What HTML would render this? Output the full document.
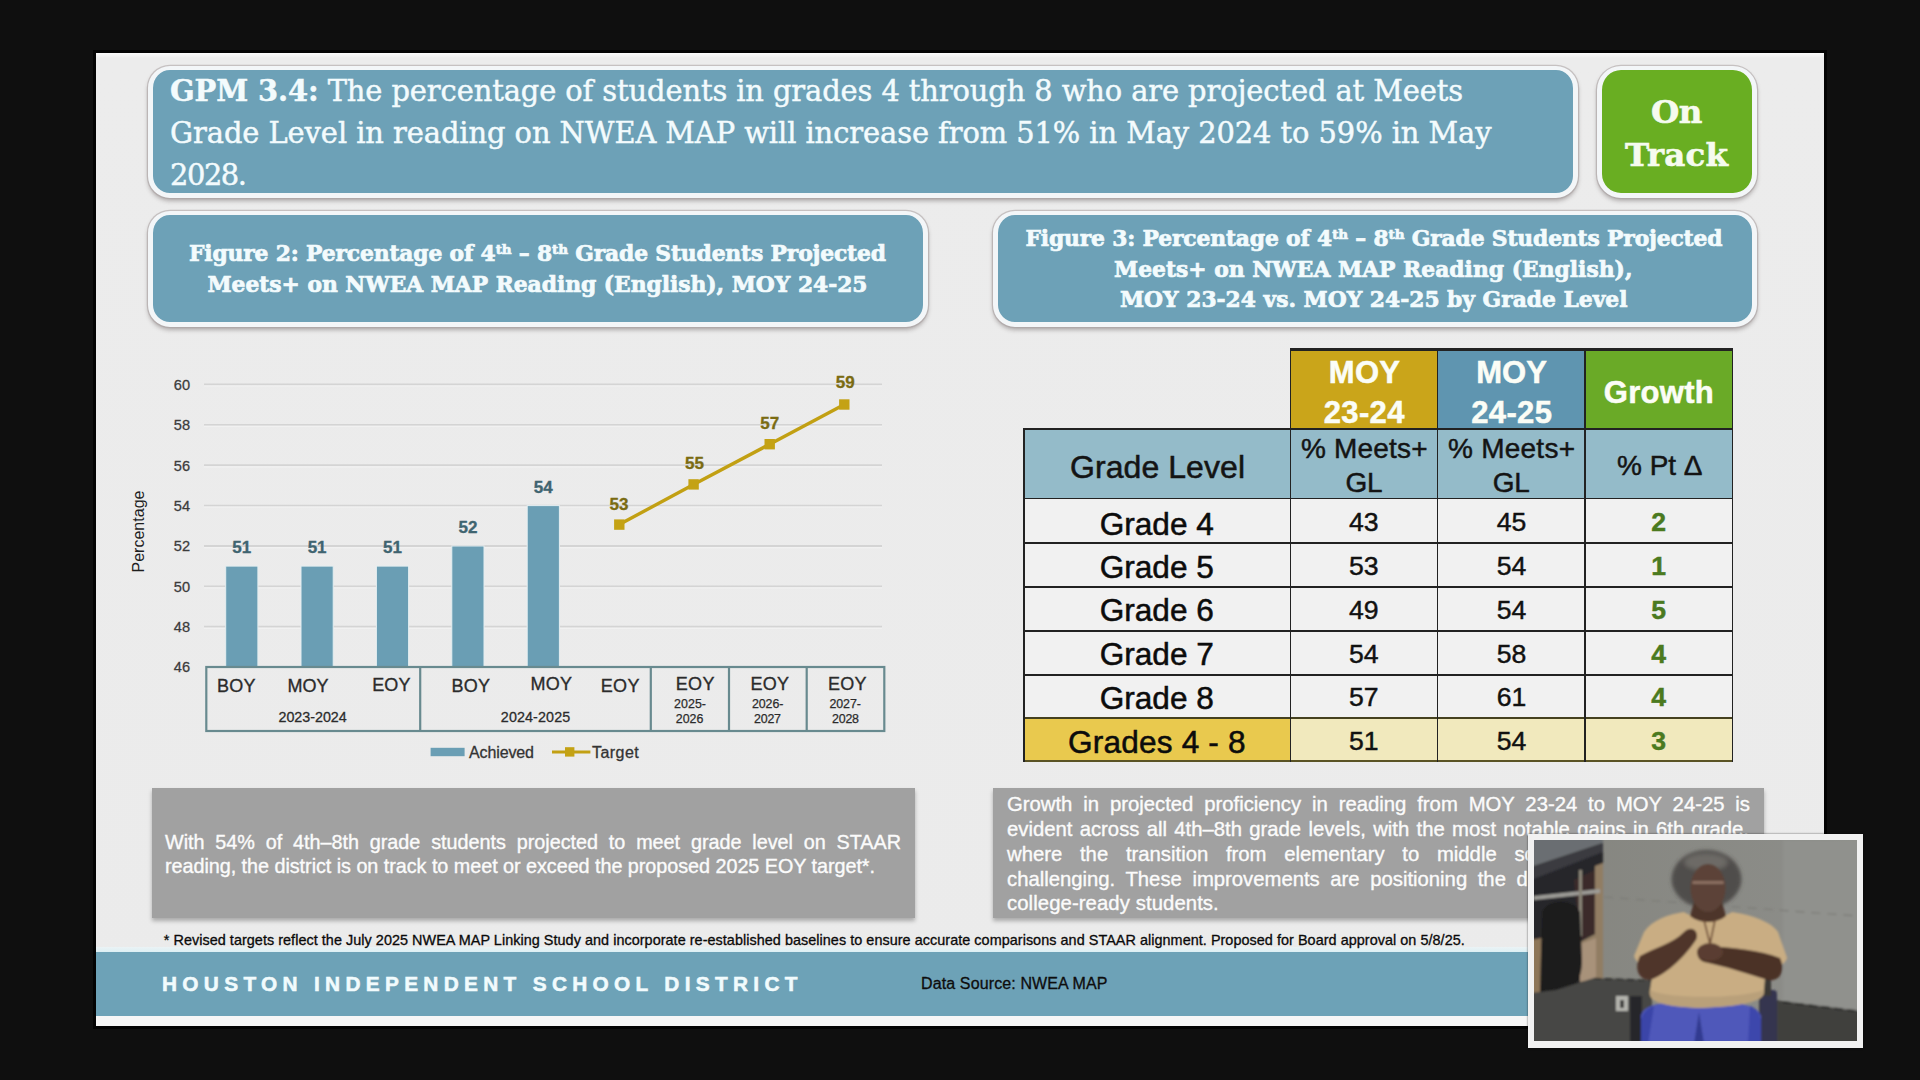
<!DOCTYPE html>
<html lang="en">
<head>
<meta charset="utf-8">
<title>GPM 3.4 – NWEA MAP Reading Progress</title>
<style>
html,body{margin:0;padding:0;background:#0f0f0f;}
body{width:1920px;height:1080px;position:relative;overflow:hidden;font-family:"Liberation Sans",Arial,sans-serif;}
#slide{position:absolute;left:96px;top:53px;width:1728px;height:973px;background:linear-gradient(#fafafa 0,#ececec 5px,#ebebeb 100%);box-shadow:0 0 0 3px #030303;}
.abs{position:absolute;}
.pill{position:absolute;box-sizing:border-box;border:5px solid #f3f6f8;border-top-width:4px;border-radius:22px;background:#6da1b7;box-shadow:0 0 0 1.2px rgba(170,160,160,.55), 0 3px 4px rgba(90,80,80,.42);}
.pill.green{background:#69ae22;border-radius:24px;}
.note{position:absolute;background:#a1a1a1;box-shadow:0 3px 4px rgba(0,0,0,.28);}
.cell{position:absolute;}
.ln{position:absolute;background:#1d1d1d;}
.t{position:absolute;white-space:pre;line-height:1;margin:0;padding:0}
.t sup{font-size:62%;vertical-align:baseline;position:relative;top:-0.5em;line-height:0}

</style>
</head>
<body>
<div id="slide"></div>

<!-- title pills -->
<div class="pill" style="left:148px;top:66px;width:1430px;height:132px;"></div>
<div class="pill green" style="left:1596.5px;top:66px;width:160.5px;height:132px;"></div>
<div class="pill" style="left:148px;top:210.5px;width:780px;height:116px;"></div>
<div class="pill" style="left:992.5px;top:210.5px;width:764px;height:116px;"></div>

<svg class="abs" style="left:0;top:0" width="1920" height="1080" viewBox="0 0 1920 1080">
<line x1="204" x2="882" y1="626.7" y2="626.7" stroke="#d4d4d4" stroke-width="1.8"/>
<line x1="204" x2="882" y1="628.3" y2="628.3" stroke="#f1f1f1" stroke-width="1.2"/>
<line x1="204" x2="882" y1="586.3" y2="586.3" stroke="#d4d4d4" stroke-width="1.8"/>
<line x1="204" x2="882" y1="587.9" y2="587.9" stroke="#f1f1f1" stroke-width="1.2"/>
<line x1="204" x2="882" y1="546.0" y2="546.0" stroke="#d4d4d4" stroke-width="1.8"/>
<line x1="204" x2="882" y1="547.6" y2="547.6" stroke="#f1f1f1" stroke-width="1.2"/>
<line x1="204" x2="882" y1="505.6" y2="505.6" stroke="#d4d4d4" stroke-width="1.8"/>
<line x1="204" x2="882" y1="507.2" y2="507.2" stroke="#f1f1f1" stroke-width="1.2"/>
<line x1="204" x2="882" y1="465.2" y2="465.2" stroke="#d4d4d4" stroke-width="1.8"/>
<line x1="204" x2="882" y1="466.8" y2="466.8" stroke="#f1f1f1" stroke-width="1.2"/>
<line x1="204" x2="882" y1="424.8" y2="424.8" stroke="#d4d4d4" stroke-width="1.8"/>
<line x1="204" x2="882" y1="426.4" y2="426.4" stroke="#f1f1f1" stroke-width="1.2"/>
<line x1="204" x2="882" y1="384.4" y2="384.4" stroke="#d4d4d4" stroke-width="1.8"/>
<line x1="204" x2="882" y1="386.0" y2="386.0" stroke="#f1f1f1" stroke-width="1.2"/>
<rect x="225.7" y="566.1" width="32.2" height="101.0" fill="#6a9eb4" stroke="#e4eef1" stroke-width="1"/>
<rect x="301.0" y="566.1" width="32.2" height="101.0" fill="#6a9eb4" stroke="#e4eef1" stroke-width="1"/>
<rect x="376.4" y="566.1" width="32.2" height="101.0" fill="#6a9eb4" stroke="#e4eef1" stroke-width="1"/>
<rect x="451.8" y="546.0" width="32.2" height="121.1" fill="#6a9eb4" stroke="#e4eef1" stroke-width="1"/>
<rect x="527.2" y="505.6" width="32.2" height="161.5" fill="#6a9eb4" stroke="#e4eef1" stroke-width="1"/>
<g fill="none" stroke="#688a8f" stroke-width="2.2">
<rect x="206.3" y="667" width="678" height="64"/>
<line x1="420.2" x2="420.2" y1="667" y2="731"/>
<line x1="650.8" x2="650.8" y1="667" y2="731"/>
<line x1="729" x2="729" y1="667" y2="731"/>
<line x1="806.7" x2="806.7" y1="667" y2="731"/>
</g>
<polyline fill="none" stroke="#c2a013" stroke-width="3.4" points="619.3,524.6 693.6,484.4 769.7,444.2 844.3,404.5"/>
<rect x="614.1" y="519.4" width="10.4" height="10.4" fill="#c4a214"/>
<rect x="688.4" y="479.2" width="10.4" height="10.4" fill="#c4a214"/>
<rect x="764.5" y="439.0" width="10.4" height="10.4" fill="#c4a214"/>
<rect x="839.1" y="399.3" width="10.4" height="10.4" fill="#c4a214"/>
<rect x="430.6" y="747.8" width="34" height="8.4" fill="#6a9eb4"/>
<line x1="552" x2="590.4" y1="752" y2="752" stroke="#c2a013" stroke-width="3.2"/>
<rect x="565" y="747.2" width="9.4" height="9.4" fill="#c4a214"/>
<text transform="translate(144.2 531.5) rotate(-90)" text-anchor="middle" font-family="'Liberation Sans', Arial, sans-serif" font-size="16" fill="#1e1e1e" textLength="82" lengthAdjust="spacing">Percentage</text>
</svg>

<div id="table">
<div class="cell" style="left:1290.5px;top:349.5px;width:147.0px;height:79.25px;background:#caa51a"></div>
<div class="cell" style="left:1437.5px;top:349.5px;width:147.5px;height:79.25px;background:#5f95b0"></div>
<div class="cell" style="left:1585px;top:349.5px;width:147.5px;height:79.25px;background:#6aaa27"></div>
<div class="cell" style="left:1023.75px;top:428.75px;width:708.75px;height:69.75px;background:#94bbc9"></div>
<div class="cell" style="left:1023.75px;top:498.5px;width:708.75px;height:219.5px;background:#f1f1f1"></div>
<div class="cell" style="left:1023.75px;top:718px;width:266.75px;height:43.5px;background:#e9c94e"></div>
<div class="cell" style="left:1290.5px;top:718px;width:442.0px;height:43.5px;background:#f1e9bd"></div>
<div class="ln" style="left:1289.55px;top:348.2px;width:443.9px;height:2.6px;background:#222"></div>
<div class="ln" style="left:1022.8px;top:427.8px;width:710.65px;height:1.9px;background:#222"></div>
<div class="ln" style="left:1022.8px;top:497.55px;width:710.65px;height:1.9px;background:#222"></div>
<div class="ln" style="left:1022.8px;top:542.05px;width:710.65px;height:1.9px;background:#222"></div>
<div class="ln" style="left:1022.8px;top:586.05px;width:710.65px;height:1.9px;background:#222"></div>
<div class="ln" style="left:1022.8px;top:630.05px;width:710.65px;height:1.9px;background:#222"></div>
<div class="ln" style="left:1022.8px;top:673.8px;width:710.65px;height:1.9px;background:#222"></div>
<div class="ln" style="left:1022.8px;top:716.8px;width:710.65px;height:2.4px;background:#45411f"></div>
<div class="ln" style="left:1022.8px;top:759.9px;width:710.65px;height:2.0px;background:#5a5324"></div>
<div class="ln" style="left:1022.8px;top:428.75px;width:1.9px;height:332.75px;background:#222"></div>
<div class="ln" style="left:1289.55px;top:349.5px;width:1.9px;height:412.0px;background:#222"></div>
<div class="ln" style="left:1436.55px;top:349.5px;width:1.9px;height:412.0px;background:#222"></div>
<div class="ln" style="left:1584.05px;top:349.5px;width:1.9px;height:412.0px;background:#222"></div>
<div class="ln" style="left:1731.55px;top:349.5px;width:1.9px;height:412.0px;background:#222"></div>
</div>

<!-- commentary boxes -->
<div class="note" style="left:152px;top:788px;width:763px;height:129.5px;"></div>
<div class="note" style="left:992.5px;top:788px;width:771px;height:130px;"></div>

<!-- footer -->
<div class="abs" style="left:96px;top:947px;width:1728px;height:6px;background:linear-gradient(#ebf3f5,#d9eef3);"></div>
<div class="abs" style="left:96px;top:952px;width:1728px;height:64px;background:#6da2b7;"></div>
<div class="abs" style="left:96px;top:1015.7px;width:1728px;height:10.3px;background:#f6f6f6;"></div>

<div class="t" style="font-family:'DejaVu Serif', 'Liberation Serif', serif;font-size:28.9px;font-weight:400;color:#f3fbfd;letter-spacing:-0.098px;left:170.00px;top:77.00px;-webkit-text-stroke:0.45px;"><b>GPM 3.4:</b> The percentage of students in grades 4 through 8 who are projected at Meets</div>
<div class="t" style="font-family:'DejaVu Serif', 'Liberation Serif', serif;font-size:28.9px;font-weight:400;color:#f3fbfd;letter-spacing:-0.069px;left:170.00px;top:118.50px;-webkit-text-stroke:0.45px;">Grade Level in reading on NWEA MAP will increase from 51% in May 2024 to 59% in May</div>
<div class="t" style="font-family:'DejaVu Serif', 'Liberation Serif', serif;font-size:28.9px;font-weight:400;color:#f3fbfd;letter-spacing:-1.430px;left:170.00px;top:160.50px;-webkit-text-stroke:0.45px;">2028.</div>
<div class="t" style="font-family:'DejaVu Serif', 'Liberation Serif', serif;font-size:32.5px;font-weight:700;color:#f6fbef;letter-spacing:-0.453px;left:1650.95px;top:95.50px;-webkit-text-stroke:0.6px;">On</div>
<div class="t" style="font-family:'DejaVu Serif', 'Liberation Serif', serif;font-size:32.5px;font-weight:700;color:#f6fbef;letter-spacing:0.172px;left:1625.00px;top:139.00px;-webkit-text-stroke:0.6px;">Track</div>
<div class="t" style="font-family:'DejaVu Serif', 'Liberation Serif', serif;font-size:21.8px;font-weight:700;color:#f3fbfd;letter-spacing:-0.146px;left:189.00px;top:243.00px;-webkit-text-stroke:0.7px;">Figure 2: Percentage of 4<sup>th</sup> – 8<sup>th</sup> Grade Students Projected</div>
<div class="t" style="font-family:'DejaVu Serif', 'Liberation Serif', serif;font-size:21.8px;font-weight:700;color:#f3fbfd;letter-spacing:-0.022px;left:207.50px;top:274.00px;-webkit-text-stroke:0.7px;">Meets+ on NWEA MAP Reading (English), MOY 24-25</div>
<div class="t" style="font-family:'DejaVu Serif', 'Liberation Serif', serif;font-size:21.8px;font-weight:700;color:#f3fbfd;letter-spacing:-0.146px;left:1025.50px;top:228.00px;-webkit-text-stroke:0.7px;">Figure 3: Percentage of 4<sup>th</sup> – 8<sup>th</sup> Grade Students Projected</div>
<div class="t" style="font-family:'DejaVu Serif', 'Liberation Serif', serif;font-size:21.8px;font-weight:700;color:#f3fbfd;letter-spacing:0.029px;left:1114.00px;top:259.00px;-webkit-text-stroke:0.7px;">Meets+ on NWEA MAP Reading (English),</div>
<div class="t" style="font-family:'DejaVu Serif', 'Liberation Serif', serif;font-size:21.8px;font-weight:700;color:#f3fbfd;letter-spacing:-0.005px;left:1120.00px;top:289.00px;-webkit-text-stroke:0.7px;">MOY 23-24 vs. MOY 24-25 by Grade Level</div>
<div class="t" style="font-family:'Liberation Sans', Arial, sans-serif;font-size:14.6px;font-weight:400;color:#3c3c3c;left:173.77px;top:660.40px;-webkit-text-stroke:0.28px;">46</div>
<div class="t" style="font-family:'Liberation Sans', Arial, sans-serif;font-size:14.6px;font-weight:400;color:#3c3c3c;left:173.77px;top:620.02px;-webkit-text-stroke:0.28px;">48</div>
<div class="t" style="font-family:'Liberation Sans', Arial, sans-serif;font-size:14.6px;font-weight:400;color:#3c3c3c;left:173.77px;top:579.64px;-webkit-text-stroke:0.28px;">50</div>
<div class="t" style="font-family:'Liberation Sans', Arial, sans-serif;font-size:14.6px;font-weight:400;color:#3c3c3c;left:173.77px;top:539.26px;-webkit-text-stroke:0.28px;">52</div>
<div class="t" style="font-family:'Liberation Sans', Arial, sans-serif;font-size:14.6px;font-weight:400;color:#3c3c3c;left:173.77px;top:498.88px;-webkit-text-stroke:0.28px;">54</div>
<div class="t" style="font-family:'Liberation Sans', Arial, sans-serif;font-size:14.6px;font-weight:400;color:#3c3c3c;left:173.77px;top:458.50px;-webkit-text-stroke:0.28px;">56</div>
<div class="t" style="font-family:'Liberation Sans', Arial, sans-serif;font-size:14.6px;font-weight:400;color:#3c3c3c;left:173.77px;top:418.12px;-webkit-text-stroke:0.28px;">58</div>
<div class="t" style="font-family:'Liberation Sans', Arial, sans-serif;font-size:14.6px;font-weight:400;color:#3c3c3c;left:173.77px;top:377.74px;-webkit-text-stroke:0.28px;">60</div>
<div class="t" style="font-family:'Liberation Sans', Arial, sans-serif;font-size:17px;font-weight:700;color:#3f6470;left:232.34px;top:539.15px;-webkit-text-stroke:0.32px;">51</div>
<div class="t" style="font-family:'Liberation Sans', Arial, sans-serif;font-size:17px;font-weight:700;color:#3f6470;left:307.64px;top:539.15px;-webkit-text-stroke:0.32px;">51</div>
<div class="t" style="font-family:'Liberation Sans', Arial, sans-serif;font-size:17px;font-weight:700;color:#3f6470;left:383.04px;top:539.15px;-webkit-text-stroke:0.32px;">51</div>
<div class="t" style="font-family:'Liberation Sans', Arial, sans-serif;font-size:17px;font-weight:700;color:#3f6470;left:458.44px;top:518.96px;-webkit-text-stroke:0.32px;">52</div>
<div class="t" style="font-family:'Liberation Sans', Arial, sans-serif;font-size:17px;font-weight:700;color:#3f6470;left:533.84px;top:478.58px;-webkit-text-stroke:0.32px;">54</div>
<div class="t" style="font-family:'Liberation Sans', Arial, sans-serif;font-size:17px;font-weight:700;color:#7a6b12;left:609.54px;top:495.57px;-webkit-text-stroke:0.32px;">53</div>
<div class="t" style="font-family:'Liberation Sans', Arial, sans-serif;font-size:17px;font-weight:700;color:#7a6b12;left:684.94px;top:455.19px;-webkit-text-stroke:0.32px;">55</div>
<div class="t" style="font-family:'Liberation Sans', Arial, sans-serif;font-size:17px;font-weight:700;color:#7a6b12;left:760.34px;top:414.81px;-webkit-text-stroke:0.32px;">57</div>
<div class="t" style="font-family:'Liberation Sans', Arial, sans-serif;font-size:17px;font-weight:700;color:#7a6b12;left:835.74px;top:374.43px;-webkit-text-stroke:0.32px;">59</div>
<div class="t" style="font-family:'Liberation Sans', Arial, sans-serif;font-size:18px;font-weight:400;color:#2b2b2b;letter-spacing:0.242px;left:217.00px;top:676.70px;-webkit-text-stroke:0.33px;">BOY</div>
<div class="t" style="font-family:'Liberation Sans', Arial, sans-serif;font-size:18px;font-weight:400;color:#2b2b2b;letter-spacing:-0.008px;left:287.50px;top:676.70px;-webkit-text-stroke:0.33px;">MOY</div>
<div class="t" style="font-family:'Liberation Sans', Arial, sans-serif;font-size:18px;font-weight:400;color:#2b2b2b;letter-spacing:0.042px;left:372.30px;top:675.60px;-webkit-text-stroke:0.33px;">EOY</div>
<div class="t" style="font-family:'Liberation Sans', Arial, sans-serif;font-size:18px;font-weight:400;color:#2b2b2b;letter-spacing:0.242px;left:451.50px;top:676.70px;-webkit-text-stroke:0.33px;">BOY</div>
<div class="t" style="font-family:'Liberation Sans', Arial, sans-serif;font-size:18px;font-weight:400;color:#2b2b2b;letter-spacing:0.242px;left:530.60px;top:675.20px;-webkit-text-stroke:0.33px;">MOY</div>
<div class="t" style="font-family:'Liberation Sans', Arial, sans-serif;font-size:18px;font-weight:400;color:#2b2b2b;letter-spacing:0.292px;left:600.80px;top:676.70px;-webkit-text-stroke:0.33px;">EOY</div>
<div class="t" style="font-family:'Liberation Sans', Arial, sans-serif;font-size:18px;font-weight:400;color:#2b2b2b;letter-spacing:0.292px;left:675.80px;top:674.60px;-webkit-text-stroke:0.33px;">EOY</div>
<div class="t" style="font-family:'Liberation Sans', Arial, sans-serif;font-size:18px;font-weight:400;color:#2b2b2b;letter-spacing:0.292px;left:750.40px;top:674.60px;-webkit-text-stroke:0.33px;">EOY</div>
<div class="t" style="font-family:'Liberation Sans', Arial, sans-serif;font-size:18px;font-weight:400;color:#2b2b2b;letter-spacing:0.242px;left:828.00px;top:674.60px;-webkit-text-stroke:0.33px;">EOY</div>
<div class="t" style="font-family:'Liberation Sans', Arial, sans-serif;font-size:14.3px;font-weight:400;color:#2b2b2b;letter-spacing:-0.022px;left:278.50px;top:709.70px;-webkit-text-stroke:0.28px;">2023-2024</div>
<div class="t" style="font-family:'Liberation Sans', Arial, sans-serif;font-size:14.3px;font-weight:400;color:#2b2b2b;letter-spacing:0.128px;left:500.80px;top:709.70px;-webkit-text-stroke:0.28px;">2024-2025</div>
<div class="t" style="font-family:'Liberation Sans', Arial, sans-serif;font-size:12.4px;font-weight:400;color:#2b2b2b;letter-spacing:0.074px;left:674.00px;top:697.70px;-webkit-text-stroke:0.25px;">2025-</div>
<div class="t" style="font-family:'Liberation Sans', Arial, sans-serif;font-size:12.4px;font-weight:400;color:#2b2b2b;letter-spacing:-0.026px;left:675.80px;top:713.00px;-webkit-text-stroke:0.25px;">2026</div>
<div class="t" style="font-family:'Liberation Sans', Arial, sans-serif;font-size:12.4px;font-weight:400;color:#2b2b2b;letter-spacing:-0.051px;left:751.90px;top:697.70px;-webkit-text-stroke:0.25px;">2026-</div>
<div class="t" style="font-family:'Liberation Sans', Arial, sans-serif;font-size:12.4px;font-weight:400;color:#2b2b2b;letter-spacing:-0.193px;left:754.00px;top:713.00px;-webkit-text-stroke:0.25px;">2027</div>
<div class="t" style="font-family:'Liberation Sans', Arial, sans-serif;font-size:12.4px;font-weight:400;color:#2b2b2b;letter-spacing:-0.026px;left:829.40px;top:697.70px;-webkit-text-stroke:0.25px;">2027-</div>
<div class="t" style="font-family:'Liberation Sans', Arial, sans-serif;font-size:12.4px;font-weight:400;color:#2b2b2b;letter-spacing:-0.193px;left:832.00px;top:713.00px;-webkit-text-stroke:0.25px;">2028</div>
<div class="t" style="font-family:'Liberation Sans', Arial, sans-serif;font-size:16px;font-weight:400;color:#333;letter-spacing:-0.118px;left:469.00px;top:744.70px;-webkit-text-stroke:0.3px;">Achieved</div>
<div class="t" style="font-family:'Liberation Sans', Arial, sans-serif;font-size:16px;font-weight:400;color:#333;letter-spacing:0.456px;left:592.00px;top:744.70px;-webkit-text-stroke:0.3px;">Target</div>
<div class="t" style="font-family:'Liberation Sans', Arial, sans-serif;font-size:31px;font-weight:700;color:#fbfdf6;letter-spacing:0.312px;left:1328.78px;top:357.00px;-webkit-text-stroke:0.51px;">MOY</div>
<div class="t" style="font-family:'Liberation Sans', Arial, sans-serif;font-size:31px;font-weight:700;color:#fbfdf6;letter-spacing:0.363px;left:1323.72px;top:396.50px;-webkit-text-stroke:0.51px;">23-24</div>
<div class="t" style="font-family:'Liberation Sans', Arial, sans-serif;font-size:31px;font-weight:700;color:#fbfdf6;letter-spacing:0.062px;left:1476.22px;top:357.00px;-webkit-text-stroke:0.51px;">MOY</div>
<div class="t" style="font-family:'Liberation Sans', Arial, sans-serif;font-size:31px;font-weight:700;color:#fbfdf6;letter-spacing:0.363px;left:1471.22px;top:396.50px;-webkit-text-stroke:0.51px;">24-25</div>
<div class="t" style="font-family:'Liberation Sans', Arial, sans-serif;font-size:31px;font-weight:700;color:#fbfdf6;letter-spacing:0.300px;left:1603.75px;top:376.50px;-webkit-text-stroke:0.51px;">Growth</div>
<div class="t" style="font-family:'Liberation Sans', Arial, sans-serif;font-size:32px;font-weight:400;color:#141414;letter-spacing:0.067px;left:1070.00px;top:451.00px;-webkit-text-stroke:0.53px;">Grade Level</div>
<div class="t" style="font-family:'Liberation Sans', Arial, sans-serif;font-size:28px;font-weight:400;color:#141414;letter-spacing:0.174px;left:1301.00px;top:434.50px;-webkit-text-stroke:0.47px;">% Meets+</div>
<div class="t" style="font-family:'Liberation Sans', Arial, sans-serif;font-size:28px;font-weight:400;color:#141414;letter-spacing:-0.359px;left:1345.50px;top:469.00px;-webkit-text-stroke:0.47px;">GL</div>
<div class="t" style="font-family:'Liberation Sans', Arial, sans-serif;font-size:28px;font-weight:400;color:#141414;letter-spacing:0.246px;left:1448.00px;top:434.50px;-webkit-text-stroke:0.47px;">% Meets+</div>
<div class="t" style="font-family:'Liberation Sans', Arial, sans-serif;font-size:28px;font-weight:400;color:#141414;letter-spacing:-0.359px;left:1492.80px;top:469.00px;-webkit-text-stroke:0.47px;">GL</div>
<div class="t" style="font-family:'Liberation Sans', Arial, sans-serif;font-size:28px;font-weight:400;color:#141414;letter-spacing:-0.025px;left:1617.00px;top:452.00px;-webkit-text-stroke:0.47px;">% Pt Δ</div>
<div class="t" style="font-family:'Liberation Sans', Arial, sans-serif;font-size:31.6px;font-weight:400;color:#0c0c0c;letter-spacing:0.013px;left:1099.67px;top:509.00px;-webkit-text-stroke:0.52px;">Grade 4</div>
<div class="t" style="font-family:'Liberation Sans', Arial, sans-serif;font-size:26.6px;font-weight:400;color:#111;left:1348.95px;top:509.00px;-webkit-text-stroke:0.45px;">43</div>
<div class="t" style="font-family:'Liberation Sans', Arial, sans-serif;font-size:26.6px;font-weight:400;color:#111;left:1496.70px;top:509.00px;-webkit-text-stroke:0.45px;">45</div>
<div class="t" style="font-family:'Liberation Sans', Arial, sans-serif;font-size:26.6px;font-weight:700;color:#4b7a1f;left:1651.35px;top:509.00px;-webkit-text-stroke:0.45px;">2</div>
<div class="t" style="font-family:'Liberation Sans', Arial, sans-serif;font-size:31.6px;font-weight:400;color:#0c0c0c;letter-spacing:0.013px;left:1099.67px;top:552.00px;-webkit-text-stroke:0.52px;">Grade 5</div>
<div class="t" style="font-family:'Liberation Sans', Arial, sans-serif;font-size:26.6px;font-weight:400;color:#111;left:1348.95px;top:552.50px;-webkit-text-stroke:0.45px;">53</div>
<div class="t" style="font-family:'Liberation Sans', Arial, sans-serif;font-size:26.6px;font-weight:400;color:#111;left:1496.70px;top:552.50px;-webkit-text-stroke:0.45px;">54</div>
<div class="t" style="font-family:'Liberation Sans', Arial, sans-serif;font-size:26.6px;font-weight:700;color:#4b7a1f;left:1651.35px;top:552.50px;-webkit-text-stroke:0.45px;">1</div>
<div class="t" style="font-family:'Liberation Sans', Arial, sans-serif;font-size:31.6px;font-weight:400;color:#0c0c0c;letter-spacing:0.013px;left:1099.67px;top:595.25px;-webkit-text-stroke:0.52px;">Grade 6</div>
<div class="t" style="font-family:'Liberation Sans', Arial, sans-serif;font-size:26.6px;font-weight:400;color:#111;left:1348.95px;top:596.75px;-webkit-text-stroke:0.45px;">49</div>
<div class="t" style="font-family:'Liberation Sans', Arial, sans-serif;font-size:26.6px;font-weight:400;color:#111;left:1496.70px;top:596.75px;-webkit-text-stroke:0.45px;">54</div>
<div class="t" style="font-family:'Liberation Sans', Arial, sans-serif;font-size:26.6px;font-weight:700;color:#4b7a1f;left:1651.35px;top:596.75px;-webkit-text-stroke:0.45px;">5</div>
<div class="t" style="font-family:'Liberation Sans', Arial, sans-serif;font-size:31.6px;font-weight:400;color:#0c0c0c;letter-spacing:0.013px;left:1099.67px;top:639.00px;-webkit-text-stroke:0.52px;">Grade 7</div>
<div class="t" style="font-family:'Liberation Sans', Arial, sans-serif;font-size:26.6px;font-weight:400;color:#111;left:1348.95px;top:640.50px;-webkit-text-stroke:0.45px;">54</div>
<div class="t" style="font-family:'Liberation Sans', Arial, sans-serif;font-size:26.6px;font-weight:400;color:#111;left:1496.70px;top:640.50px;-webkit-text-stroke:0.45px;">58</div>
<div class="t" style="font-family:'Liberation Sans', Arial, sans-serif;font-size:26.6px;font-weight:700;color:#4b7a1f;left:1651.35px;top:640.50px;-webkit-text-stroke:0.45px;">4</div>
<div class="t" style="font-family:'Liberation Sans', Arial, sans-serif;font-size:31.6px;font-weight:400;color:#0c0c0c;letter-spacing:0.013px;left:1099.67px;top:682.75px;-webkit-text-stroke:0.52px;">Grade 8</div>
<div class="t" style="font-family:'Liberation Sans', Arial, sans-serif;font-size:26.6px;font-weight:400;color:#111;left:1348.95px;top:684.00px;-webkit-text-stroke:0.45px;">57</div>
<div class="t" style="font-family:'Liberation Sans', Arial, sans-serif;font-size:26.6px;font-weight:400;color:#111;left:1496.70px;top:684.00px;-webkit-text-stroke:0.45px;">61</div>
<div class="t" style="font-family:'Liberation Sans', Arial, sans-serif;font-size:26.6px;font-weight:700;color:#4b7a1f;left:1651.35px;top:684.00px;-webkit-text-stroke:0.45px;">4</div>
<div class="t" style="font-family:'Liberation Sans', Arial, sans-serif;font-size:31.6px;font-weight:400;color:#0c0c0c;letter-spacing:0.172px;left:1068.05px;top:726.50px;-webkit-text-stroke:0.52px;">Grades 4 - 8</div>
<div class="t" style="font-family:'Liberation Sans', Arial, sans-serif;font-size:26.6px;font-weight:400;color:#111;left:1348.95px;top:728.00px;-webkit-text-stroke:0.45px;">51</div>
<div class="t" style="font-family:'Liberation Sans', Arial, sans-serif;font-size:26.6px;font-weight:400;color:#111;left:1496.70px;top:728.00px;-webkit-text-stroke:0.45px;">54</div>
<div class="t" style="font-family:'Liberation Sans', Arial, sans-serif;font-size:26.6px;font-weight:700;color:#4b7a1f;left:1651.35px;top:728.00px;-webkit-text-stroke:0.45px;">3</div>
<div class="t" style="font-family:'Liberation Sans', Arial, sans-serif;font-size:19.8px;font-weight:400;color:#fbfbfb;word-spacing:5.284px;left:165.00px;top:832.75px;-webkit-text-stroke:0.36px;">With 54% of 4th–8th grade students projected to meet grade level on STAAR</div>
<div class="t" style="font-family:'Liberation Sans', Arial, sans-serif;font-size:19.8px;font-weight:400;color:#fbfbfb;letter-spacing:-0.040px;left:165.00px;top:857.00px;-webkit-text-stroke:0.36px;">reading, the district is on track to meet or exceed the proposed 2025 EOY target*.</div>
<div class="t" style="font-family:'Liberation Sans', Arial, sans-serif;font-size:20.3px;font-weight:400;color:#fbfbfb;word-spacing:5.240px;left:1007.00px;top:793.50px;-webkit-text-stroke:0.36px;">Growth in projected proficiency in reading from MOY 23-24 to MOY 24-25 is</div>
<div class="t" style="font-family:'Liberation Sans', Arial, sans-serif;font-size:20.3px;font-weight:400;color:#fbfbfb;word-spacing:1.660px;left:1007.00px;top:818.50px;-webkit-text-stroke:0.36px;">evident across all 4th–8th grade levels, with the most notable gains in 6th grade,</div>
<div class="t" style="font-family:'Liberation Sans', Arial, sans-serif;font-size:20.3px;font-weight:400;color:#fbfbfb;word-spacing:12.100px;left:1007.00px;top:843.50px;-webkit-text-stroke:0.36px;">where the transition from elementary to middle school can be especially</div>
<div class="t" style="font-family:'Liberation Sans', Arial, sans-serif;font-size:20.3px;font-weight:400;color:#fbfbfb;word-spacing:4.934px;left:1007.00px;top:868.50px;-webkit-text-stroke:0.36px;">challenging. These improvements are positioning the district to graduate more</div>
<div class="t" style="font-family:'Liberation Sans', Arial, sans-serif;font-size:20.3px;font-weight:400;color:#fbfbfb;letter-spacing:0.093px;left:1007.00px;top:892.50px;-webkit-text-stroke:0.36px;">college-ready students.</div>
<div class="t" style="font-family:'Liberation Sans', Arial, sans-serif;font-size:14.4px;font-weight:400;color:#0a0a0a;letter-spacing:0.050px;left:163.75px;top:933.30px;-webkit-text-stroke:0.3px;">* Revised targets reflect the July 2025 NWEA MAP Linking Study and incorporate re-established baselines to ensure accurate comparisons and STAAR alignment. Proposed for Board approval on 5/8/25.</div>
<div class="t" style="font-family:'Liberation Sans', Arial, sans-serif;font-size:20.8px;font-weight:700;color:#f1fbfd;letter-spacing:5.324px;left:162.00px;top:974.00px;-webkit-text-stroke:0.55px;">HOUSTON INDEPENDENT SCHOOL DISTRICT</div>
<div class="t" style="font-family:'Liberation Sans', Arial, sans-serif;font-size:16px;font-weight:400;color:#0d0d0d;letter-spacing:0.122px;left:921.00px;top:976.00px;-webkit-text-stroke:0.3px;">Data Source: NWEA MAP</div>

<div class="abs" style="left:1528px;top:834px;width:335px;height:214px;background:#f1f1f1;box-shadow:0 0 2px rgba(0,0,0,.6)"></div>
<svg class="abs" style="left:1534px;top:840px" width="323" height="201" viewBox="0 0 323 201">
<defs><filter id="bl" x="-5%" y="-5%" width="110%" height="110%"><feGaussianBlur stdDeviation="1.1"/></filter><filter id="bl3" x="-20%" y="-20%" width="140%" height="140%"><feGaussianBlur stdDeviation="1.5"/></filter><filter id="bl2" x="-20%" y="-20%" width="140%" height="140%"><feGaussianBlur stdDeviation="2.2"/></filter><linearGradient id="wall" x1="0" x2="1" y1="0" y2="0"><stop offset="0" stop-color="#85857f"/><stop offset="1" stop-color="#8d8e8a"/></linearGradient><clipPath id="cp"><rect width="323" height="201"/></clipPath></defs>
<g clip-path="url(#cp)">
<rect width="323" height="201" fill="url(#wall)"/>
<g filter="url(#bl)">
<rect x="249" y="0" width="80" height="175" fill="#90918d"/>
<line x1="70" x2="323" y1="57" y2="76" stroke="#7c7c77" stroke-width="1.2" stroke-dasharray="9 7"/>
<rect x="-3" y="-3" width="72" height="160" fill="#27272a"/>
<polygon points="-3,-3 69,-3 69,3 -3,27" fill="#6a6e72"/>
<polygon points="-3,27 69,3 69,12 -3,40" fill="#3a3b3f"/>
<polygon points="61,26 69,23 69,140 46,141 46,102 61,94" fill="#917d63"/>
<polygon points="40,40 61,30 61,94 46,100" fill="#3b2b2b"/>
<polygon points="-3,100 12,97 12,154 -3,154" fill="#8d7659"/>
<polygon points="46,104 62,98 62,140 46,142" fill="#a8927a"/>
<polygon points="0,56 66,49 66,53 0,60" fill="#9d9c97"/>
<rect x="45" y="30" width="3" height="66" fill="#8a8578"/>
<path d="M8,72 C14,58 40,58 46,72 L48,120 C48,140 40,150 30,153 L6,153 Z" fill="#1c1c1f"/>
<polygon points="-3,153 22,150 60,138 118,140 118,204 -3,204" fill="#474744"/>
<polygon points="225,158 326,171 326,204 225,204" fill="#41413d"/>
<line x1="236" x2="326" y1="160.5" y2="171.5" stroke="#2c2c2a" stroke-width="2" stroke-dasharray="8 5"/>
<line x1="60" x2="118" y1="138.5" y2="140.5" stroke="#2f2f2d" stroke-width="1.6" stroke-dasharray="7 4"/>
<rect x="82" y="156" width="12" height="15" fill="#b4b4ae"/><rect x="86" y="160" width="4" height="8" fill="#3a3a3a"/>
<rect x="96" y="156" width="12" height="48" fill="#27272a"/>
<rect x="226" y="150" width="17" height="54" rx="4" fill="#35364f"/>
<rect x="229" y="128" width="8" height="28" fill="#3a3836"/>
<path d="M107,204 L107,176 C110,162 140,160 165,166 C190,160 222,162 227,176 L227,204 Z" fill="#4f58ba"/>
<path d="M160,204 L165,172 L170,204 Z" fill="#303a90"/>
<path d="M107,204 L107,180 C109,172 114,168 120,166 L114,204 Z" fill="#3a44a8"/>
<path d="M227,204 L227,180 C225,172 222,168 216,166 L214,204 Z" fill="#3d47ac"/>
<path d="M150,72 C135,74 118,80 110,92 L100,116 C102,124 112,128 120,124 L116,150 C114,160 122,166 165,168 C215,166 232,160 230,150 L232,126 C240,130 250,126 253,118 L244,92 C236,80 212,74 198,72 C185,80 163,80 150,72 Z" fill="#c9ad83"/>
<path d="M116,150 C130,158 200,160 230,150 C232,160 215,166 165,168 C122,166 114,160 116,150 Z" fill="#b9a07a"/>
<path d="M106,116 C100,128 104,140 116,140 C130,136 150,118 162,100 C166,92 158,84 150,92 C138,104 120,108 106,116 Z" fill="#50362a"/>
<path d="M246,118 C252,130 246,142 234,140 C214,134 190,126 170,122 C160,118 162,106 174,106 C200,108 226,110 246,118 Z" fill="#4c3327"/>
<ellipse cx="176" cy="112" rx="13" ry="9" fill="#5a3d30"/>
<ellipse cx="172.5" cy="39" rx="35" ry="29" fill="#504d4b" filter="url(#bl3)"/>
<ellipse cx="172" cy="22" rx="22" ry="9" fill="#6d6a66" filter="url(#bl2)"/>
<path d="M160,62 L188,62 L192,76 C182,84 166,84 156,76 Z" fill="#4d3429"/>
<ellipse cx="174" cy="48" rx="17.5" ry="24" fill="#5b4338"/>
<rect x="158" y="41" width="32" height="3" rx="1.5" fill="#8b6f62"/>
<path d="M170,80 L176,104 L181,80" fill="none" stroke="#6a4a34" stroke-width="1.6"/>
</g></g></svg>
</body>
</html>
